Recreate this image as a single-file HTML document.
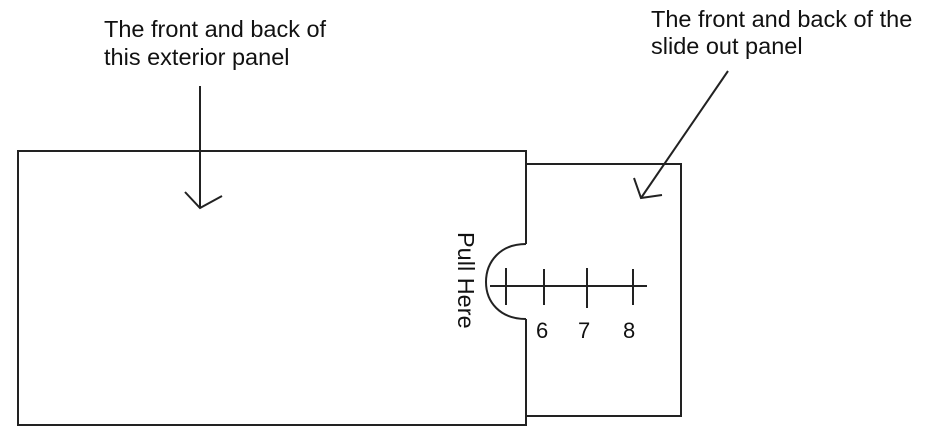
<!DOCTYPE html>
<html><head><meta charset="utf-8"><style>
html,body{margin:0;padding:0;background:#fff;}
svg{display:block;}
text{font-family:"Liberation Sans",Arial,sans-serif;fill:#111;}
</style></head><body>
<svg width="926" height="446" viewBox="0 0 926 446" xmlns="http://www.w3.org/2000/svg">
<g stroke="#222" stroke-width="2" fill="none">
<path d="M526,244 L526,151 L18,151 L18,425 L526,425 L526,319"/>
<path d="M526,164 L681,164 L681,416 L526,416"/>
<path d="M526,244 C500,244 486,262 486,282 C486,302 500,319 526,319"/>
<line x1="490" y1="286" x2="647" y2="286"/>
<line x1="506" y1="268" x2="506" y2="305"/>
<line x1="544" y1="269" x2="544" y2="305"/>
<line x1="587" y1="268" x2="587" y2="308"/>
<line x1="633" y1="269" x2="633" y2="305"/>
<line x1="200" y1="86" x2="200" y2="208"/>
<polyline points="185,192 200,208 222,196"/>
<line x1="728" y1="71" x2="641" y2="198"/>
<polyline points="634,178 641,198 662,195"/>
</g>
<text x="104" y="37" font-size="23.5">The front and back of</text>
<text x="104" y="65" font-size="23.5">this exterior panel</text>
<text x="651" y="27" font-size="23.5">The front and back of the</text>
<text x="651" y="54" font-size="23.5">slide out panel</text>
<text x="536" y="338" font-size="22">6</text>
<text x="578" y="338" font-size="22">7</text>
<text x="623" y="338" font-size="22">8</text>
<text transform="translate(458,232) rotate(90)" font-size="23.5">Pull Here</text>
</svg>
</body></html>
